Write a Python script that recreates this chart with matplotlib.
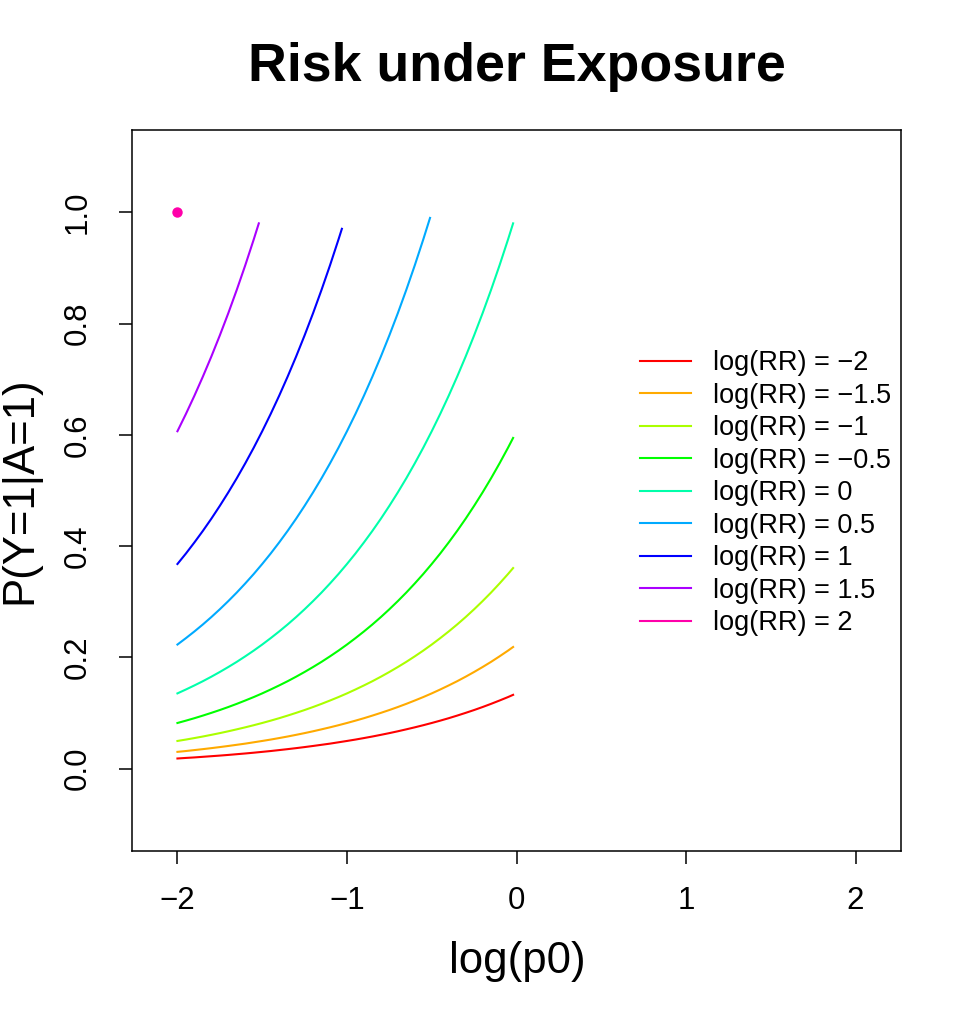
import matplotlib
matplotlib.use("Agg")
import matplotlib.pyplot as plt

plt.rcParams['font.family'] = ['Liberation Sans', 'DejaVu Sans']

# log(p0) grid (last point sits just left of 0)
log_p0 = [-2.00, -1.95, -1.90, -1.85, -1.80, -1.75, -1.70, -1.65, -1.60, -1.55,
          -1.50, -1.45, -1.40, -1.35, -1.30, -1.25, -1.20, -1.15, -1.10, -1.05,
          -1.00, -0.95, -0.90, -0.85, -0.80, -0.75, -0.70, -0.65, -0.60, -0.55,
          -0.50, -0.45, -0.40, -0.35, -0.30, -0.25, -0.20, -0.15, -0.10, -0.05,
          -0.02]

log_rr = [-2, -1.5, -1, -0.5, 0, 0.5, 1, 1.5, 2]
colors = ['#FF0000', '#FFAA00', '#AAFF00', '#00FF00', '#00FFAA',
          '#00AAFF', '#0000FF', '#AA00FF', '#FF00AA']

# where each curve stops (risk reaches ~1)
end_x = [-0.02, -0.02, -0.02, -0.02, -0.02, -0.51, -1.03, -1.52, -2.0]

risk_m20 = [0.0183, 0.0193, 0.0202, 0.0213, 0.0224, 0.0235, 0.0247, 0.0260, 0.0273, 0.0287,
            0.0302, 0.0317, 0.0334, 0.0351, 0.0369, 0.0388, 0.0408, 0.0429, 0.0450, 0.0474,
            0.0498, 0.0523, 0.0550, 0.0578, 0.0608, 0.0639, 0.0672, 0.0707, 0.0743, 0.0781,
            0.0821, 0.0863, 0.0907, 0.0954, 0.1003, 0.1054, 0.1108, 0.1165, 0.1225, 0.1287,
            0.1327]
risk_m15 = [0.0302, 0.0317, 0.0334, 0.0351, 0.0369, 0.0388, 0.0408, 0.0429, 0.0450, 0.0474,
            0.0498, 0.0523, 0.0550, 0.0578, 0.0608, 0.0639, 0.0672, 0.0707, 0.0743, 0.0781,
            0.0821, 0.0863, 0.0907, 0.0954, 0.1003, 0.1054, 0.1108, 0.1165, 0.1225, 0.1287,
            0.1353, 0.1423, 0.1496, 0.1572, 0.1653, 0.1738, 0.1827, 0.1920, 0.2019, 0.2122,
            0.2187]
risk_m10 = [0.0498, 0.0523, 0.0550, 0.0578, 0.0608, 0.0639, 0.0672, 0.0707, 0.0743, 0.0781,
            0.0821, 0.0863, 0.0907, 0.0954, 0.1003, 0.1054, 0.1108, 0.1165, 0.1225, 0.1287,
            0.1353, 0.1423, 0.1496, 0.1572, 0.1653, 0.1738, 0.1827, 0.1920, 0.2019, 0.2122,
            0.2231, 0.2346, 0.2466, 0.2592, 0.2725, 0.2865, 0.3012, 0.3166, 0.3329, 0.3499,
            0.3606]
risk_m05 = [0.0821, 0.0863, 0.0907, 0.0954, 0.1003, 0.1054, 0.1108, 0.1165, 0.1225, 0.1287,
            0.1353, 0.1423, 0.1496, 0.1572, 0.1653, 0.1738, 0.1827, 0.1920, 0.2019, 0.2122,
            0.2231, 0.2346, 0.2466, 0.2592, 0.2725, 0.2865, 0.3012, 0.3166, 0.3329, 0.3499,
            0.3679, 0.3867, 0.4066, 0.4274, 0.4493, 0.4724, 0.4966, 0.5220, 0.5488, 0.5769,
            0.5945]
risk_00 = [0.1353, 0.1423, 0.1496, 0.1572, 0.1653, 0.1738, 0.1827, 0.1920, 0.2019, 0.2122,
           0.2231, 0.2346, 0.2466, 0.2592, 0.2725, 0.2865, 0.3012, 0.3166, 0.3329, 0.3499,
           0.3679, 0.3867, 0.4066, 0.4274, 0.4493, 0.4724, 0.4966, 0.5220, 0.5488, 0.5769,
           0.6065, 0.6376, 0.6703, 0.7047, 0.7408, 0.7788, 0.8187, 0.8607, 0.9048, 0.9512,
           0.9802]
risk_05 = [0.2231, 0.2346, 0.2466, 0.2592, 0.2725, 0.2865, 0.3012, 0.3166, 0.3329, 0.3499,
           0.3679, 0.3867, 0.4066, 0.4274, 0.4493, 0.4724, 0.4966, 0.5220, 0.5488, 0.5769,
           0.6065, 0.6376, 0.6703, 0.7047, 0.7408, 0.7788, 0.8187, 0.8607, 0.9048, 0.9512,
           0.9900]
risk_10 = [0.3679, 0.3867, 0.4066, 0.4274, 0.4493, 0.4724, 0.4966, 0.5220, 0.5488, 0.5769,
           0.6065, 0.6376, 0.6703, 0.7047, 0.7408, 0.7788, 0.8187, 0.8607, 0.9048, 0.9512,
           0.9704]
risk_15 = [0.6065, 0.6376, 0.6703, 0.7047, 0.7408, 0.7788, 0.8187, 0.8607, 0.9048, 0.9512,
           0.9802]
risk_20 = [1.0]

risks = [risk_m20, risk_m15, risk_m10, risk_m05, risk_00,
         risk_05, risk_10, risk_15, risk_20]

fig = plt.figure(figsize=(9.69, 10.16), dpi=100)
ax = fig.add_axes([132 / 969, 165 / 1016, 769 / 969, 721 / 1016])

for rr, col, ex, ys in zip(log_rr, colors, end_x, risks):
    xs = [x for x in log_p0 if x < ex - 1e-9][:len(ys) - 1] + [ex]
    lab = 'log(RR) = ' + str(rr).replace('-', '\u2212')
    if len(ys) == 1:
        ax.plot(xs, ys, 'o', color=col, ms=7.5, mec='none')
        ax.plot([], [], color=col, lw=1.5, label=lab)
    else:
        ax.plot(xs, ys, color=col, lw=1.5, label=lab)

ax.set_xlim(-2.268, 2.268)
ax.set_ylim(-0.148, 1.148)
ax.set_xticks([-2, -1, 0, 1, 2])
ax.set_yticks([0.0, 0.2, 0.4, 0.6, 0.8, 1.0])
ax.set_yticklabels(['0.0', '0.2', '0.4', '0.6', '0.8', '1.0'], rotation=90, va='center')
ax.tick_params(labelsize=22.5, length=9.5, width=1.1, direction='out')
ax.tick_params(axis='x', pad=16)
ax.tick_params(axis='y', pad=19)
for s in ax.spines.values():
    s.set_linewidth(1.1)

ax.legend(loc='center left', bbox_to_anchor=(0.6606, 0.496), frameon=False,
          borderpad=0, borderaxespad=0, fontsize=19.5, handlelength=1.9,
          handletextpad=0.8, labelspacing=0.24)

fig.text(517 / 969, 1 - 67 / 1016, 'Risk under Exposure', ha='center', va='center',
         fontsize=38.7, fontweight='bold')
fig.text(517 / 969, 1 - 962 / 1016, 'log(p0)', ha='center', va='center', fontsize=31.5)
fig.text(20 / 969, 1 - 490 / 1016, 'P(Y=1|A=1)', ha='center', va='center',
         fontsize=31.5, rotation=90)

fig.savefig('out.png', dpi=100)
